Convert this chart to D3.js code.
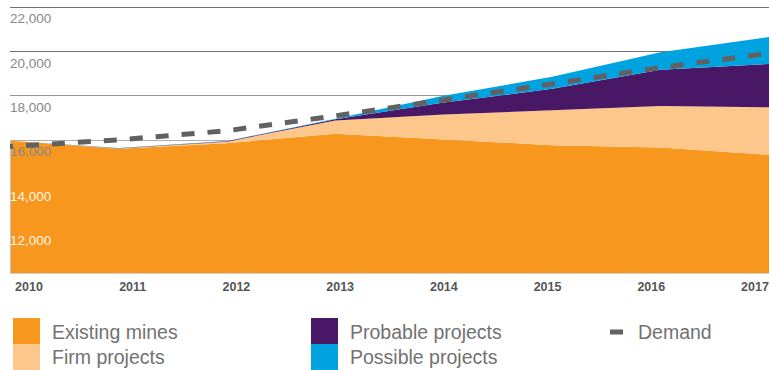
<!DOCTYPE html>
<html>
<head>
<meta charset="utf-8">
<script src="https://cdn.jsdelivr.net/npm/d3@7/dist/d3.min.js"></script>
<style>
  html, body { margin: 0; padding: 0; background: #fff; }
  svg { display: block; font-family: "Liberation Sans", Arial, Helvetica, sans-serif; }
</style>
</head>
<body>
<svg id="chart" width="771" height="370"></svg>
<script>
// Supply (stacked) versus demand, 2010–2017
const years = [2010, 2011, 2012, 2013, 2014, 2015, 2016, 2017];
const existingMines    = [15960, 15600, 15850, 16270, 16020, 15760, 15660, 15320];
const firmProjects     = [0, 10, 70, 600, 1120, 1570, 1870, 2150];
const probableProjects = [0, 15, 20, 60, 540, 970, 1630, 1950];
const possibleProjects = [0, 5, 10, 20, 310, 540, 790, 1215];
const demand           = [15700, 16000, 16410, 17080, 17800, 18520, 19260, 19900];
const yTickValues = [12000, 14000, 16000, 18000, 20000, 22000];
const xTickLabels = ["2010", "2011", "2012", "2013", "2014", "2015", "2016", "2017"];

const seriesKeys   = ["existing", "firm", "probable", "possible"];
const seriesNames  = ["Existing mines", "Firm projects", "Probable projects", "Possible projects"];
const seriesColors = ["#F7971E", "#FDC78B", "#481866", "#00A3E0"];
const demandColor  = "#616161";

const table = years.map((yr, i) => ({
  year: yr,
  existing: existingMines[i],
  firm: firmProjects[i],
  probable: probableProjects[i],
  possible: possibleProjects[i]
}));

const svg = d3.select("#chart");

const x = d3.scaleLinear().domain([2010, 2017]).range([10, 769]);
const y = d3.scaleLinear().domain([10000, 22000]).range([273, 6.7]);
const xLabel = d3.scalePoint().domain(xTickLabels).range([29, 755]);

// Horizontal gridlines (behind the areas)
const gridColor = v => v >= 20000 ? "#727272" : (v >= 18000 ? "#979797" : "#adadad");
svg.append("g").selectAll("line")
  .data(yTickValues)
  .join("line")
  .attr("x1", 10).attr("x2", 769)
  .attr("y1", d => Math.round(y(d)) + 0.5)
  .attr("y2", d => Math.round(y(d)) + 0.5)
  .attr("stroke", gridColor)
  .attr("stroke-width", 1);

// Stacked supply areas
const stack = d3.stack().keys(seriesKeys);
const layers = stack(table);
const area = d3.area()
  .x(d => x(d.data.year))
  .y0(d => y(Math.max(d[0], 10000)))
  .y1(d => y(d[1]));

svg.append("g").selectAll("path")
  .data(layers)
  .join("path")
  .attr("d", area)
  .attr("fill", (d, i) => seriesColors[i]);

// Left edge and baseline
svg.append("line")
  .attr("x1", 10.5).attr("x2", 10.5)
  .attr("y1", y(16000)).attr("y2", 273)
  .attr("stroke", "#c4c4c4").attr("stroke-width", 1);
svg.append("line")
  .attr("x1", 10).attr("x2", 769)
  .attr("y1", 273.5).attr("y2", 273.5)
  .attr("stroke", "#d0d0d0").attr("stroke-width", 1);

// Y tick labels, sitting just below each gridline
svg.append("g").selectAll("text")
  .data(yTickValues)
  .join("text")
  .attr("x", 10)
  .attr("y", d => y(d) + 16.5)
  .attr("font-size", "13.5px")
  .attr("fill", d => d < 16000 ? "#fff6ea" : "#888888")
  .text(d => d3.format(",")(d));

// Demand (dashed)
const demandLine = d3.line()
  .x((d, i) => x(years[i]))
  .y(d => y(d));
svg.append("path")
  .datum(demand)
  .attr("d", demandLine)
  .attr("fill", "none")
  .attr("stroke", demandColor)
  .attr("stroke-width", 5)
  .attr("stroke-dasharray", "13,13")
  .attr("stroke-dashoffset", 10);

// X axis year labels
svg.append("g").selectAll("text")
  .data(xTickLabels)
  .join("text")
  .attr("x", d => xLabel(d))
  .attr("y", 291)
  .attr("text-anchor", "middle")
  .attr("font-size", "12.5px")
  .attr("font-weight", "bold")
  .attr("fill", "#555555")
  .text(d => d);

// Legend
const legend = svg.append("g");
const legendItems = [
  { name: seriesNames[0], color: seriesColors[0], sx: 13,  sy: 318, tx: 52,  ty: 339 },
  { name: seriesNames[1], color: seriesColors[1], sx: 13,  sy: 344, tx: 52,  ty: 364 },
  { name: seriesNames[2], color: seriesColors[2], sx: 311, sy: 318, tx: 350, ty: 339 },
  { name: seriesNames[3], color: seriesColors[3], sx: 311, sy: 344, tx: 350, ty: 364 }
];
legend.selectAll("rect")
  .data(legendItems)
  .join("rect")
  .attr("x", d => d.sx).attr("y", d => d.sy)
  .attr("width", 27).attr("height", 26)
  .attr("fill", d => d.color);
legend.selectAll("text.item")
  .data(legendItems)
  .join("text")
  .attr("class", "item")
  .attr("x", d => d.tx).attr("y", d => d.ty)
  .attr("font-size", "19.5px")
  .attr("fill", "#727272")
  .text(d => d.name);

legend.append("rect")
  .attr("x", 610).attr("y", 329.5)
  .attr("width", 13).attr("height", 5)
  .attr("fill", demandColor);
legend.append("text")
  .attr("x", 638).attr("y", 339)
  .attr("font-size", "19.5px")
  .attr("fill", "#727272")
  .text("Demand");
</script>
</body>
</html>
